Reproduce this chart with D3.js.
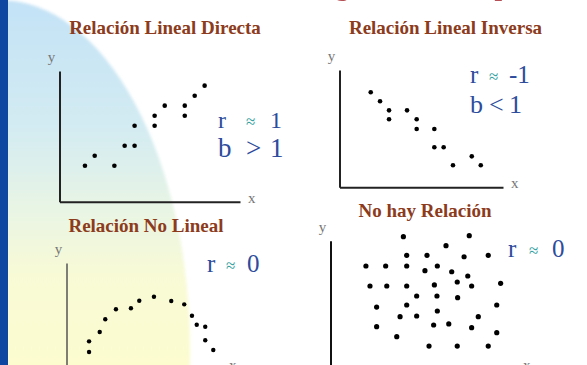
<!DOCTYPE html>
<html><head><meta charset="utf-8">
<script src="https://cdn.jsdelivr.net/npm/d3@7"></script>
<style>html,body{margin:0;padding:0;background:#fff;overflow:hidden}</style>
</head><body><svg id="chart" width="587" height="365"></svg>
<script>
// ---------- data ----------
const pageTitle = "Diagramas de dispersión";
const titles = ["Relación Lineal Directa", "Relación Lineal Inversa", "Relación No Lineal", "No hay Relación"];
const axisNames = ["x", "y"];

const directX = [1.41,1.95,3.04,3.61,4.16,4.16,5.27,5.27,5.83,6.94,6.94,7.49,8.04];
const directY = [2.75,3.52,2.75,4.28,4.28,5.81,5.81,6.58,7.35,7.35,6.58,8.11,8.88];

const inverseX = [1.91,2.48,3.03,3.03,4.13,4.72,4.72,5.80,5.80,6.37,6.94,8.09,8.64];
const inverseY = [8.10,7.33,6.56,5.80,6.56,5.80,4.97,4.97,3.41,3.41,1.88,2.64,1.88];

const nonlinearX = [1.46,1.46,2.15,2.51,3.20,4.17,4.71,5.66,6.78,7.62,8.12,8.43,8.98,8.98,9.50];
const nonlinearY = [1.60,2.61,3.49,4.69,5.63,5.73,6.44,6.82,6.42,6.10,5.03,4.18,3.99,2.71,1.79];

const noneX = [3.95,7.52,6.26,4.13,5.23,7.24,8.55,1.92,2.99,4.13,5.12,5.79,6.57,7.44,2.14,3.05,4.13,5.63,6.87,7.65,9.22,4.67,5.77,6.89,2.50,4.13,5.79,9.01,3.77,4.67,8.01,2.50,5.59,6.41,7.65,9.01,3.59,5.34,6.87,8.55];
const noneY = [10.31,10.39,9.61,8.86,8.86,8.75,8.86,8.03,8.03,8.03,7.66,8.03,7.58,7.25,6.47,6.47,6.47,6.55,6.78,6.47,6.68,5.69,5.69,5.56,4.83,4.99,4.52,4.99,4.08,4.13,4.08,3.30,3.43,3.51,3.22,2.83,2.52,1.79,1.79,1.79];

// statistic lines: [symbol, relation, value]
const statsDirect = [["r","≈","1"],["b",">","1"]];
const statsInverse = [["r","≈","-1"],["b","<","1"]];
const statsNonlinear = [["r","≈","0"]];
const statsNone = [["r","≈","0"]];

// ---------- layout ----------
const layout = [
  {xs: directX, ys: directY, stats: statsDirect, frame:{x0:59.5,x1:240,y0:201.7,y1:71}, titlePos:[165,34],
   statPos:{x:[218,246,270], y:[128,157], size:[24,27]}, axisColor:"#222", axisW:2, r:2.3},
  {xs: inverseX, ys: inverseY, stats: statsInverse, frame:{x0:339.5,x1:503,y0:187.3,y1:70}, titlePos:[445.5,33.5],
   statPos:{x:[470,489,509], y:[83.3,113.3], size:[25,26]}, axisColor:"#222", axisW:2, r:2.3},
  {xs: nonlinearX, ys: nonlinearY, stats: statsNonlinear, frame:{x0:66.5,x1:221,y0:369,y1:263}, titlePos:[146,231.5],
   statPos:{x:[207,226,247], y:[271.7], size:[25]}, axisColor:"#555", axisW:1.5, r:2.2},
  {xs: noneX, ys: noneY, stats: statsNone, frame:{x0:330.5,x1:515,y0:369,y1:240.7}, titlePos:[425,216.5],
   statPos:{x:[508,529,552], y:[256.7], size:[25]}, axisColor:"#111", axisW:2, r:2.6}
];
layout.forEach((p,i)=>p.title = titles[i]);

const svg = d3.select("#chart");
const defs = svg.append("defs");
const grad = defs.append("linearGradient").attr("id","bgGrad")
  .attr("gradientUnits","userSpaceOnUse").attr("x1",0).attr("y1",0).attr("x2",0).attr("y2",365);
[["0%","#c3e2f6"],["35%","#d3ebf2"],["55%","#e6f4e6"],["75%","#f8fad6"],["100%","#fcfccf"]]
  .forEach(([o,c])=>grad.append("stop").attr("offset",o).attr("stop-color",c));
defs.append("filter").attr("id","soft").append("feGaussianBlur").attr("stdDeviation",1.5);

svg.append("rect").attr("width",587).attr("height",365).attr("fill","#ffffff");
svg.append("ellipse").attr("cx",0).attr("cy",350).attr("rx",190).attr("ry",350)
  .attr("fill","url(#bgGrad)").attr("filter","url(#soft)");
svg.append("rect").attr("x",0).attr("y",0).attr("width",8).attr("height",365).attr("fill","#0e47a1");

svg.append("text").attr("x",295).attr("y",-5)
  .attr("font-family","'Liberation Serif', 'Times New Roman', serif").attr("font-weight","bold")
  .attr("font-size",27).attr("fill","#a3262c").attr("opacity",0.8).text(pageTitle);

const serif = "'Liberation Serif', 'Times New Roman', serif";

layout.forEach(p=>{
  const f = p.frame;
  const x = d3.scaleLinear().domain([0,10]).range([f.x0,f.x1]);
  const y = d3.scaleLinear().domain([0,10]).range([f.y0,f.y1]);
  const g = svg.append("g");

  g.append("text").attr("x",p.titlePos[0]).attr("y",p.titlePos[1]).attr("text-anchor","middle")
    .attr("font-family",serif).attr("font-weight","bold").attr("font-size",19)
    .attr("fill","#8c3b1c").text(p.title);

  const xa = g.append("g").attr("transform",`translate(0,${f.y0})`)
    .call(d3.axisBottom(x).ticks(0).tickSizeOuter(0));
  const ya = g.append("g").attr("transform",`translate(${f.x0},0)`)
    .call(d3.axisLeft(y).ticks(0).tickSizeOuter(0));
  [xa,ya].forEach(a=>{
    a.select(".domain").attr("stroke",p.axisColor).attr("stroke-width",p.axisW);
    a.selectAll(".tick").remove();
  });

  g.append("text").attr("x",x(10)+8).attr("y",f.y0+1)
    .attr("font-family",serif).attr("font-size",15).attr("fill","#777").text(axisNames[0]);
  g.append("text").attr("x",f.x0-8).attr("y",y(10)-9).attr("text-anchor","middle")
    .attr("font-family",serif).attr("font-size",15).attr("fill","#777").text(axisNames[1]);

  g.selectAll("circle").data(p.xs.map((v,i)=>[v,p.ys[i]])).join("circle")
    .attr("cx",d=>x(d[0])).attr("cy",d=>y(d[1])).attr("r",p.r).attr("fill","#000");

  p.stats.forEach((line,li)=>{
    const fs = p.statPos.size[li];
    const by = p.statPos.y[li];
    line.forEach((s,si)=>{
      const isRel = s==="≈";
      g.append("text").attr("x",p.statPos.x[si]).attr("y",isRel? by-1 : by)
        .attr("font-family",serif).attr("font-size",isRel?17:fs)
        .attr("fill",isRel?"#2e9e9e":"#2d4c9c").text(s);
    });
  });
});
</script></body></html>
